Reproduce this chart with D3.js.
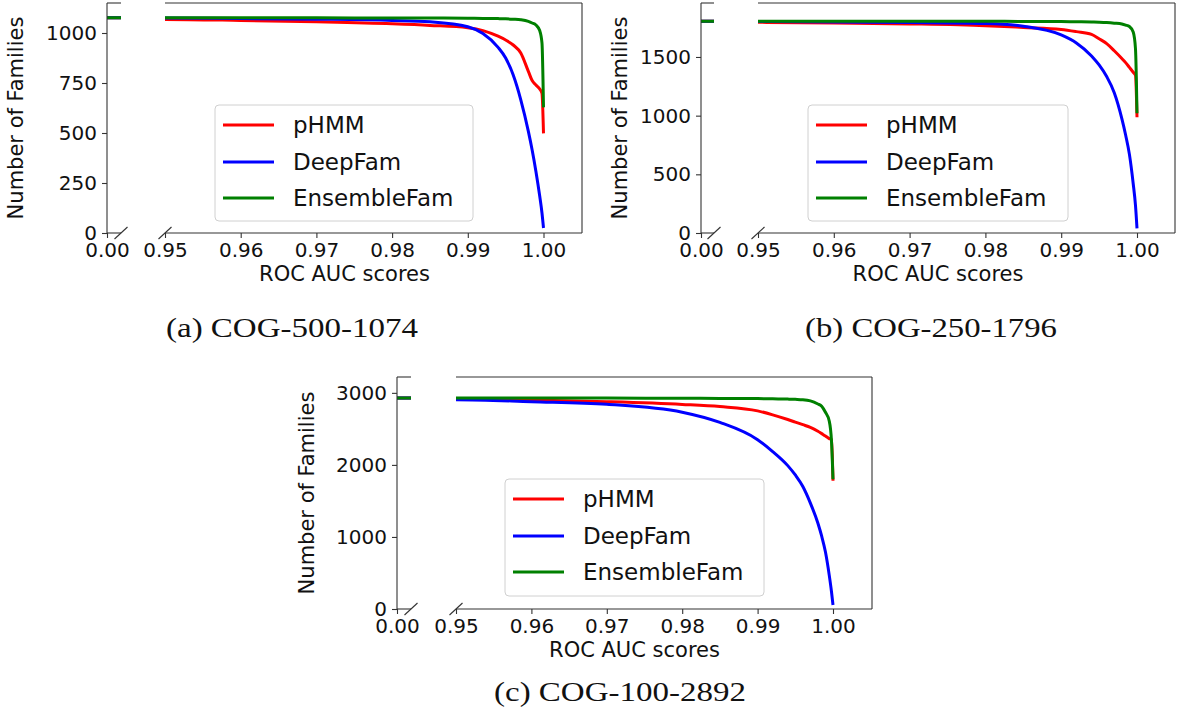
<!DOCTYPE html>
<html><head><meta charset="utf-8">
<script src="https://cdn.jsdelivr.net/npm/d3@7"></script>
<style>body{margin:0;background:#fff} svg{display:block}</style>
</head><body><svg id="chart" width="1180" height="709"></svg>
<script>
const seriesNames = ["pHMM", "DeepFam", "EnsembleFam"];
const seriesColors = ["#ff0000", "#0000ff", "#008000"];
const aucScores = [0, 0.95, 0.96, 0.97, 0.98, 0.985, 0.99, 0.992, 0.994, 0.995, 0.996, 0.997, 0.998, 0.9985, 0.999, 0.9995, 0.9998, 1.0];

// Panel (a) COG-500-1074
const phmmA     = [1076, 1068, 1063, 1056, 1046, 1038, 1026, 1012, 984, 965, 940, 900, 808, 762, 740, 720, 698, 498];
const deepfamA  = [1076, 1075, 1072, 1069, 1063, 1056, 1031, 997, 928, 875, 790, 666, 508, 415, 308, 185, 100, 25];
const ensembleA = [1076, 1076, 1076, 1076, 1075, 1075, 1074, 1073, 1072, 1071, 1069, 1066, 1058, 1050, 1040, 1012, 950, 628];
// Panel (b) COG-250-1796
const phmmB     = [1805, 1795, 1790, 1782, 1767, 1752, 1735, 1716, 1692, 1655, 1614, 1553, 1487, 1452, 1411, 1370, 1345, 986];
const deepfamB  = [1805, 1802, 1798, 1793, 1785, 1762, 1688, 1620, 1509, 1432, 1333, 1196, 975, 835, 670, 420, 235, 40];
const ensembleB = [1805, 1805, 1805, 1805, 1804, 1803, 1802, 1800, 1798, 1796, 1793, 1788, 1781, 1772, 1760, 1712, 1570, 1020];
// Panel (c) COG-100-2892
const phmmC     = [2930, 2920, 2900, 2877, 2840, 2810, 2750, 2695, 2630, 2594, 2558, 2521, 2467, 2434, 2401, 2365, 2350, 1780];
const deepfamC  = [2930, 2905, 2878, 2842, 2732, 2590, 2350, 2185, 1990, 1860, 1700, 1470, 1190, 1010, 790, 470, 240, 55];
const ensembleC = [2930, 2928, 2928, 2927, 2925, 2923, 2920, 2917, 2913, 2910, 2905, 2888, 2845, 2815, 2730, 2610, 2330, 1800];

const yTicksA = [0, 250, 500, 750, 1000];
const yTicksB = [0, 500, 1000, 1500];
const yTicksC = [0, 1000, 2000, 3000];
const xTicksLeft = [0.00];
const xTicksRight = [0.95, 0.96, 0.97, 0.98, 0.99, 1.00];
const captions = ["(a) COG-500-1074", "(b) COG-250-1796", "(c) COG-100-2892"];
const xAxisTitle = "ROC AUC scores";
const yAxisTitle = "Number of Families";

const panels = [
  {series: [phmmA, deepfamA, ensembleA], yMax: 1150, yTicks: yTicksA, caption: captions[0],
   axL: 107, segEnd: 121, x095: 165, x100: 543.5, right: 582, top: 3, bottom: 233,
   legend: {x: 215, y: 105, w: 258, h: 116}, yLabelX: 23, capX: 292, capY: 337},
  {series: [phmmB, deepfamB, ensembleB], yMax: 1960, yTicks: yTicksB, caption: captions[1],
   axL: 701, segEnd: 714, x095: 758, x100: 1137, right: 1175, top: 3, bottom: 233,
   legend: {x: 808, y: 105, w: 260, h: 116}, yLabelX: 627, capX: 931, capY: 337},
  {series: [phmmC, deepfamC, ensembleC], yMax: 3220, yTicks: yTicksC, caption: captions[2],
   axL: 397, segEnd: 411, x095: 456, x100: 833, right: 872, top: 377, bottom: 609,
   legend: {x: 505, y: 479, w: 259, h: 117}, yLabelX: 314, capX: 620, capY: 701}
];

const svg = d3.select("#chart");
const FONT = "DejaVu Sans, sans-serif";
const spine = "#333";

panels.forEach((p, pi) => {
  const g = svg.append("g");
  const y = d3.scaleLinear().domain([0, p.yMax]).range([p.bottom, p.top]);
  const span = p.x100 - p.x095;
  const xR = d3.scaleLinear().domain([0.95, 1.0]).range([p.x095, p.x100]);
  const xL = d3.scaleLinear().domain([0, 0.05]).range([p.axL, p.axL + span]);

  const clipL = "clipL" + pi, clipR = "clipR" + pi;
  const defs = g.append("defs");
  defs.append("clipPath").attr("id", clipL).append("rect")
    .attr("x", p.axL).attr("y", p.top).attr("width", p.segEnd - p.axL).attr("height", p.bottom - p.top);
  defs.append("clipPath").attr("id", clipR).append("rect")
    .attr("x", p.x095).attr("y", p.top).attr("width", p.right - p.x095).attr("height", p.bottom - p.top);

  [[xL, clipL], [xR, clipR]].forEach(([xs, cid]) => {
    const lg = g.append("g").attr("clip-path", `url(#${cid})`);
    p.series.forEach((vals, si) => {
      const pts = aucScores.map((a, i) => [a, vals[i]]);
      const line = d3.line().x(d => xs(d[0])).y(d => y(d[1])).curve(d3.curveMonotoneX);
      lg.append("path").attr("d", line(pts)).attr("fill", "none")
        .attr("stroke", seriesColors[si]).attr("stroke-width", 3)
        .attr("stroke-linejoin", "round");
    });
  });

  // spines
  const sp = (x1, y1, x2, y2) => g.append("line").attr("x1", x1).attr("y1", y1).attr("x2", x2).attr("y2", y2)
    .attr("stroke", spine).attr("stroke-width", 1.1);
  sp(p.axL, p.top, p.axL, p.bottom);
  sp(p.axL, p.top, p.segEnd, p.top);
  sp(p.axL, p.bottom, p.segEnd, p.bottom);
  sp(p.x095, p.top, p.right, p.top);
  sp(p.x095, p.bottom, p.right, p.bottom);
  sp(p.right, p.top, p.right, p.bottom);
  // break marks
  sp(p.segEnd - 6.5, p.bottom + 6, p.segEnd + 6.5, p.bottom - 6);
  sp(p.x095 - 6.5, p.bottom + 6, p.x095 + 6.5, p.bottom - 6);

  // axes
  const styleAxis = sel => {
    sel.select(".domain").remove();
    sel.selectAll(".tick line").attr("stroke", spine).attr("stroke-width", 1.1);
    sel.selectAll(".tick text").attr("font-family", FONT).attr("font-size", 20).attr("fill", "#111");
  };
  g.append("g").attr("transform", `translate(0,${p.bottom})`)
    .call(d3.axisBottom(xL).tickValues(xTicksLeft).tickFormat(d3.format(".2f")).tickSize(5).tickPadding(5))
    .call(styleAxis);
  g.append("g").attr("transform", `translate(0,${p.bottom})`)
    .call(d3.axisBottom(xR).tickValues(xTicksRight).tickFormat(d3.format(".2f")).tickSize(5).tickPadding(5))
    .call(styleAxis);
  g.append("g").attr("transform", `translate(${p.axL},0)`)
    .call(d3.axisLeft(y).tickValues(p.yTicks).tickFormat(d3.format("d")).tickSize(5).tickPadding(5))
    .call(styleAxis);

  // axis titles
  g.append("text").attr("x", (p.axL + p.right) / 2).attr("y", p.bottom + 48)
    .attr("text-anchor", "middle").attr("font-family", FONT).attr("font-size", 21).attr("fill", "#111")
    .text(xAxisTitle);
  g.append("text").attr("transform", `translate(${p.yLabelX},${(p.top + p.bottom) / 2}) rotate(-90)`)
    .attr("text-anchor", "middle").attr("font-family", FONT).attr("font-size", 21).attr("fill", "#111")
    .text(yAxisTitle);

  // legend
  const L = p.legend;
  const lg = g.append("g");
  lg.append("rect").attr("x", L.x).attr("y", L.y).attr("width", L.w).attr("height", L.h)
    .attr("rx", 4).attr("fill", "#fff").attr("fill-opacity", 0.85).attr("stroke", "#d0d0d0");
  const rowOff = [20, 57, 93];
  seriesNames.forEach((name, si) => {
    const yy = L.y + rowOff[si];
    lg.append("line").attr("x1", L.x + 8).attr("x2", L.x + 59).attr("y1", yy).attr("y2", yy)
      .attr("stroke", seriesColors[si]).attr("stroke-width", 3);
    lg.append("text").attr("x", L.x + 78).attr("y", yy).attr("dy", "0.36em")
      .attr("font-family", FONT).attr("font-size", 23).attr("fill", "#111").text(name);
  });

  // caption
  svg.append("text").attr("x", p.capX).attr("y", p.capY).attr("text-anchor", "middle")
    .attr("font-family", "Liberation Serif, serif").attr("font-size", 27).attr("fill", "#111")
    .attr("textLength", 252).attr("lengthAdjust", "spacingAndGlyphs")
    .text(p.caption);
});
</script>
</body></html>
